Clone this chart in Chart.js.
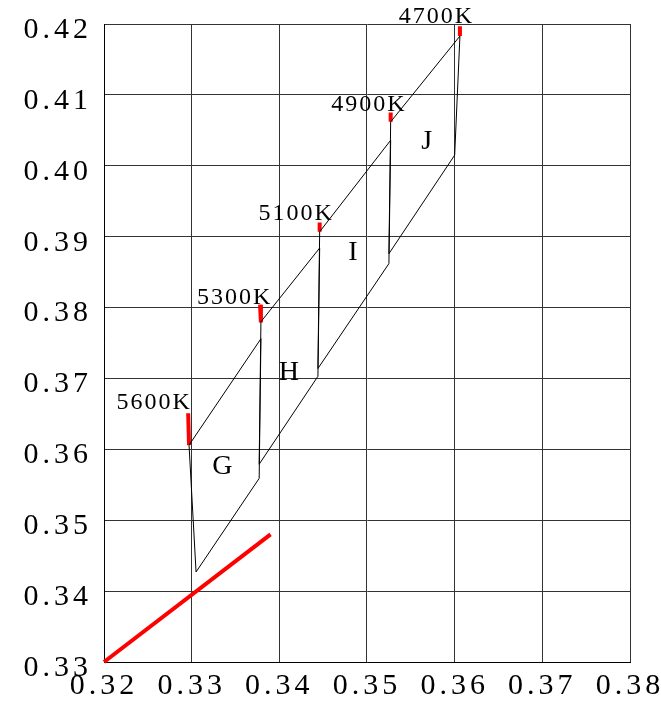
<!DOCTYPE html>
<html>
<head>
<meta charset="utf-8">
<script src="https://cdn.jsdelivr.net/npm/chart.js@4/dist/chart.umd.min.js"></script>
<style>
  body { margin: 0; background: #fff; }
  canvas { display: block; }
</style>
</head>
<body>
<canvas id="binChart" width="661" height="702"></canvas>
<script>
// axis ticks
const xTicks = [0.32, 0.33, 0.34, 0.35, 0.36, 0.37, 0.38];
const yTicks = [0.33, 0.34, 0.35, 0.36, 0.37, 0.38, 0.39, 0.40, 0.41, 0.42];

// bin quadrangles (x, y corners, closed)
const binNames = ["G", "H", "I", "J"];
const binG = [[0.3297, 0.3606], [0.3379, 0.3756], [0.3377, 0.3559], [0.3305, 0.3427], [0.3297, 0.3606]];
const binH = [[0.3379, 0.3780], [0.3446, 0.3884], [0.3444, 0.3703], [0.3377, 0.3579], [0.3379, 0.3780]];
const binI = [[0.3446, 0.3907], [0.3527, 0.4036], [0.3525, 0.3862], [0.3444, 0.3714], [0.3446, 0.3907]];
const binJ = [[0.3527, 0.4062], [0.3606, 0.4183], [0.3600, 0.4015], [0.3525, 0.3876], [0.3527, 0.4062]];
const binLabelX = [0.3335, 0.3411, 0.3484, 0.3568];
const binLabelY = [0.3575, 0.3708, 0.3877, 0.4034];

// CCT marks on the upper edge
const cctNames = ["5600K", "5300K", "5100K", "4900K", "4700K"];
const cctTopX = [0.3296, 0.3378, 0.3446, 0.3527, 0.3606];
const cctTopY = [0.3651, 0.3804, 0.3920, 0.4075, 0.4197];
const cctBotX = [0.3297, 0.3379, 0.3446, 0.3527, 0.3606];
const cctBotY = [0.3606, 0.3779, 0.3907, 0.4062, 0.4183];
const cctLabelX = [0.3256, 0.3348, 0.3418, 0.3501, 0.3578];
const cctLabelY = [0.3666, 0.3814, 0.3932, 0.4086, 0.4210];

// red reference line
const refLine = [[0.32, 0.33], [0.339, 0.348]];

const toPts = arr => arr.map(p => ({ x: p[0], y: p[1] }));

const datasets = [];
[binG, binH, binI, binJ].forEach((b, i) => {
  datasets.push({
    label: binNames[i],
    data: toPts(b),
    borderColor: "#000",
    borderWidth: 1,
    pointRadius: 0,
    showLine: true,
    tension: 0
  });
});
cctNames.forEach((n, i) => {
  datasets.push({
    label: n,
    data: [{ x: cctTopX[i], y: cctTopY[i] }, { x: cctBotX[i], y: cctBotY[i] }],
    borderColor: "#ff0000",
    borderWidth: 4,
    pointRadius: 0,
    showLine: true,
    clip: false
  });
});
datasets.push({
  label: "ref",
  data: toPts(refLine),
  borderColor: "#ff0000",
  borderWidth: 4,
  pointRadius: 0,
  showLine: true,
  clip: false
});

const textPlugin = {
  id: "textPlugin",
  beforeDraw(chart) {
    chart.ctx.letterSpacing = "4px";
  },
  afterDatasetsDraw(chart) {
    const ctx = chart.ctx;
    const xs = chart.scales.x, ys = chart.scales.y;
    ctx.save();
    ctx.fillStyle = "#000";
    ctx.textAlign = "center";
    ctx.textBaseline = "middle";
    ctx.letterSpacing = "2px";
    ctx.font = "24px 'Liberation Serif', serif";
    cctNames.forEach((n, i) => {
      ctx.fillText(n, xs.getPixelForValue(cctLabelX[i]) + 1, ys.getPixelForValue(cctLabelY[i]));
    });
    ctx.letterSpacing = "0px";
    ctx.font = "28px 'Liberation Serif', serif";
    binNames.forEach((n, i) => {
      ctx.fillText(n, xs.getPixelForValue(binLabelX[i]), ys.getPixelForValue(binLabelY[i]));
    });
    ctx.restore();
  }
};

const tickFont = { family: "'Liberation Serif', serif", size: 30 };

new Chart(document.getElementById("binChart"), {
  type: "scatter",
  data: { datasets: datasets },
  plugins: [textPlugin],
  options: {
    responsive: false,
    animation: false,
    layout: { padding: { left: 0, right: 31, top: 24, bottom: 0 } },
    plugins: { legend: { display: false }, tooltip: { enabled: false } },
    scales: {
      x: {
        type: "linear",
        min: 0.32,
        max: 0.38,
        afterBuildTicks: s => { s.ticks = xTicks.map(v => ({ value: v })); },
        afterFit: s => { s.height = 40; s.paddingLeft = 0; s.paddingRight = 0; },
        grid: { color: "#333", lineWidth: 1, drawTicks: false },
        border: { color: "#000", width: 1 },
        ticks: { font: tickFont, color: "#000", padding: 6, maxRotation: 0, autoSkip: false, callback: v => v.toFixed(2) }
      },
      y: {
        type: "linear",
        min: 0.33,
        max: 0.42,
        afterBuildTicks: s => { s.ticks = yTicks.map(v => ({ value: v })); },
        afterFit: s => { s.width = 104; s.paddingTop = 0; s.paddingBottom = 0; },
        grid: { color: "#333", lineWidth: 1, drawTicks: false },
        border: { color: "#000", width: 1 },
        ticks: { font: tickFont, color: "#000", padding: 12, labelOffset: 6, autoSkip: false, callback: v => v.toFixed(2) }
      }
    }
  }
});
</script>
</body>
</html>
